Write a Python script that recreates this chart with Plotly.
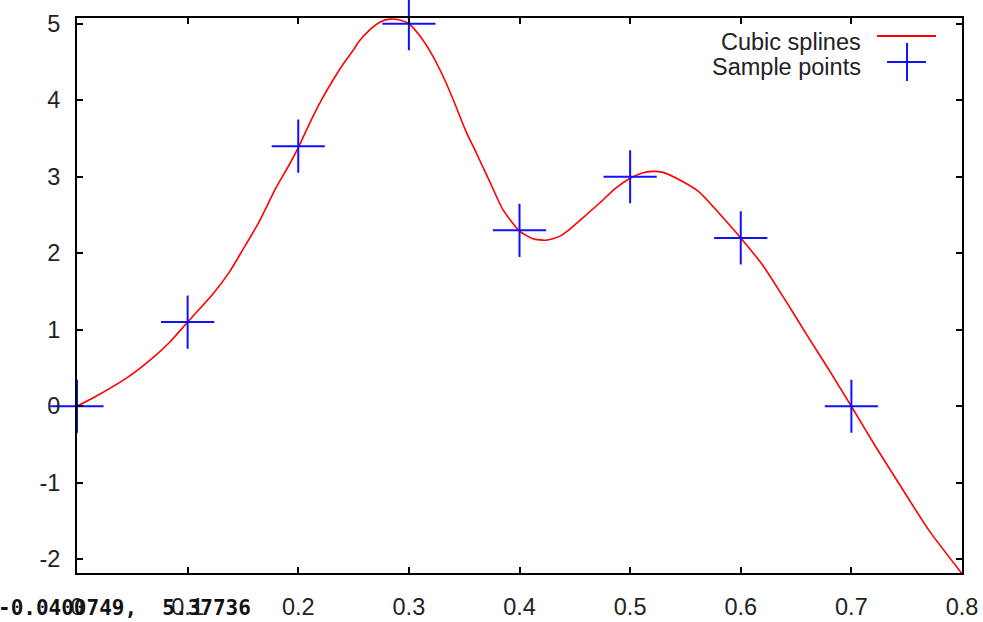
import plotly.graph_objects as go

# Sample points
sample_x = [0.0, 0.1, 0.2, 0.3, 0.4, 0.5, 0.6, 0.7]
sample_y = [0.0, 1.1, 3.4, 5.0, 2.3, 3.0, 2.2, 0.0]

# Cubic spline curve
spline_x = [0.0, 0.016, 0.045, 0.069, 0.084, 0.1, 0.123, 0.138, 0.150, 0.165,
            0.180, 0.192, 0.2, 0.213, 0.222, 0.233, 0.2405, 0.2495, 0.2555, 0.2646,
            0.2736, 0.2826, 0.2917, 0.3, 0.31, 0.32, 0.331, 0.34, 0.352, 0.361,
            0.373, 0.385, 0.4, 0.412, 0.424, 0.436, 0.445, 0.457, 0.472, 0.487,
            0.5, 0.511, 0.52, 0.529, 0.5445, 0.5625, 0.58, 0.6, 0.62, 0.641,
            0.659, 0.68, 0.7, 0.722, 0.743, 0.77, 0.8]
spline_y = [0.0, 0.12, 0.37, 0.64, 0.84, 1.1, 1.47, 1.76, 2.05, 2.42,
            2.86, 3.16, 3.38, 3.78, 4.03, 4.30, 4.47, 4.65, 4.78, 4.92,
            5.02, 5.06, 5.05, 5.0, 4.84, 4.62, 4.31, 4.01, 3.58, 3.31,
            2.94, 2.57, 2.29, 2.19, 2.17, 2.22, 2.31, 2.46, 2.65, 2.85,
            2.98, 3.05, 3.07, 3.06, 2.96, 2.80, 2.53, 2.2, 1.84, 1.37,
            0.95, 0.47, 0.0, -0.53, -1.01, -1.62, -2.19]

x_ticks = [0, 0.1, 0.2, 0.3, 0.4, 0.5, 0.6, 0.7, 0.8]
x_tick_text = ["0", "0.1", "0.2", "0.3", "0.4", "0.5", "0.6", "0.7", "0.8"]
y_ticks = [5, 4, 3, 2, 1, 0, -1, -2]
y_tick_text = ["5", "4", "3", "2", "1", "0", "-1", "-2"]

legend_labels = ["Cubic splines", "Sample points"]
mouse_readout = "-0.0400749,  5.37736"

RED = "#ff0000"
BLUE = "#1010ff"
TEXT = "#222222"
FONT = "Liberation Sans, Arial, sans-serif"
FONT_SIZE = 23.5

fig = go.Figure()

fig.add_trace(go.Scatter(
    x=spline_x, y=spline_y, mode="lines", name=legend_labels[0],
    line=dict(color=RED, width=1.6, shape="spline", smoothing=0.6),
    showlegend=False, hoverinfo="skip",
))
fig.add_trace(go.Scatter(
    x=sample_x, y=sample_y, mode="markers", name=legend_labels[1],
    marker=dict(symbol="cross-thin", size=38, color=BLUE,
                line=dict(color=BLUE, width=2)),
    showlegend=False, cliponaxis=False,
))

axis_common = dict(
    showgrid=False, zeroline=False, showline=True, linecolor="black",
    linewidth=2, mirror="ticks", ticks="inside", ticklen=6, tickwidth=2,
    tickcolor="black", automargin=False,
    tickfont=dict(family=FONT, size=FONT_SIZE, color=TEXT),
)

fig.update_xaxes(range=[0, 0.8], tickvals=x_ticks, ticktext=x_tick_text,
                 ticklabelstandoff=12, **axis_common)
fig.update_yaxes(range=[-2.18, 5.075], tickvals=y_ticks, ticktext=y_tick_text,
                 ticklabelstandoff=10, **axis_common)

# Key drawn to the right of its labels, inside the top-right corner
fig.add_shape(type="line", xref="paper", yref="paper",
              x0=0.904, x1=0.9706, y0=0.9676, y1=0.9676,
              line=dict(color=RED, width=2))
fig.add_shape(type="line", xref="paper", yref="paper",
              x0=0.9153, x1=0.9593, y0=0.9207, y1=0.9207,
              line=dict(color=BLUE, width=2))
fig.add_shape(type="line", xref="paper", yref="paper",
              x0=0.9379, x1=0.9379, y0=0.8865, y1=0.955,
              line=dict(color=BLUE, width=2))
fig.add_annotation(xref="paper", yref="paper", x=0.8881, y=0.9568,
                   xanchor="right", yanchor="middle", showarrow=False,
                   text=legend_labels[0],
                   font=dict(family=FONT, size=FONT_SIZE, color=TEXT))
fig.add_annotation(xref="paper", yref="paper", x=0.8881, y=0.9117,
                   xanchor="right", yanchor="middle", showarrow=False,
                   text=legend_labels[1],
                   font=dict(family=FONT, size=FONT_SIZE, color=TEXT))

# Mouse coordinate readout in the lower-left corner
fig.add_annotation(xref="paper", yref="paper", x=-0.0915, y=-0.0632,
                   xanchor="left", yanchor="middle", showarrow=False,
                   text="<b>" + mouse_readout + "</b>",
                   font=dict(family="DejaVu Sans Mono, monospace", size=21,
                             color="#111111"))

fig.update_layout(
    width=983, height=622,
    margin=dict(l=77, r=21, t=18, b=49),
    paper_bgcolor="white", plot_bgcolor="white",
    showlegend=False,
)

fig.write_html("out.html")
